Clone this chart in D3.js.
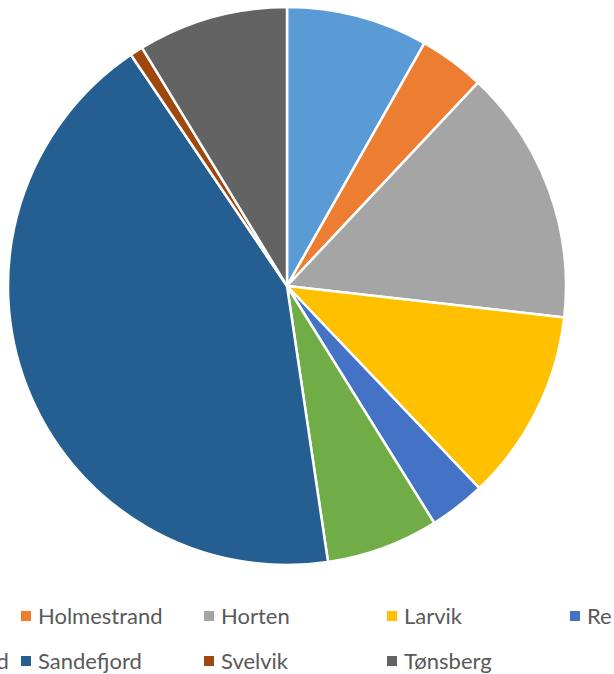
<!DOCTYPE html>
<html>
<head>
<meta charset="utf-8">
<script src="https://cdn.jsdelivr.net/npm/d3@7"></script>
<style>
  html, body { margin: 0; padding: 0; background: #fff; overflow: hidden; }
</style>
</head>
<body>
<svg id="pie" width="614" height="674"></svg>
<script>
// municipalities (share of total)
const categories = ["Færder", "Holmestrand", "Horten", "Larvik", "Re",
  "Sande i Vestfold", "Sandefjord", "Svelvik", "Tønsberg"];
const values = [8.2, 3.8, 14.8, 11.1, 3.25, 6.5, 42.9, 0.75, 8.7];
const colors = ["#5B9BD5", "#ED7D31", "#A5A5A5", "#FFC000", "#4472C4",
  "#70AD47", "#255E91", "#9E480E", "#636363"];

const svg = d3.select("#pie");
const cx = 287, cy = 286, radius = 279;

const pie = d3.pie().sort(null).value(d => d.v);
const arc = d3.arc().innerRadius(0).outerRadius(radius);
const data = categories.map((c, i) => ({ c: c, v: values[i] }));

const color = d3.scaleOrdinal().domain(categories).range(colors);

svg.append("g")
  .attr("transform", `translate(${cx},${cy})`)
  .selectAll("path")
  .data(pie(data))
  .join("path")
  .attr("d", arc)
  .attr("fill", d => color(d.data.c))
  .attr("stroke", "#fff")
  .attr("stroke-width", 2.5)
  .attr("stroke-linejoin", "round");

// legend, 5 columns, the first column falls off the left edge
const colW = 183, x0 = 26 - colW, rowY = [616, 661];
const leg = svg.append("g")
  .selectAll("g")
  .data(categories)
  .join("g")
  .attr("transform", (d, i) => `translate(${x0 + (i % 5) * colW},${rowY[Math.floor(i / 5)]})`);

leg.append("rect")
  .attr("x", -5).attr("y", -5)
  .attr("width", 10).attr("height", 10)
  .attr("fill", d => color(d));

leg.append("text")
  .attr("x", 12)
  .attr("dy", "0.36em")
  .attr("font-family", "Lato, 'Liberation Sans', sans-serif")
  .attr("font-size", 22)
  .attr("fill", "#595959")
  .text(d => d);
</script>
</body>
</html>
